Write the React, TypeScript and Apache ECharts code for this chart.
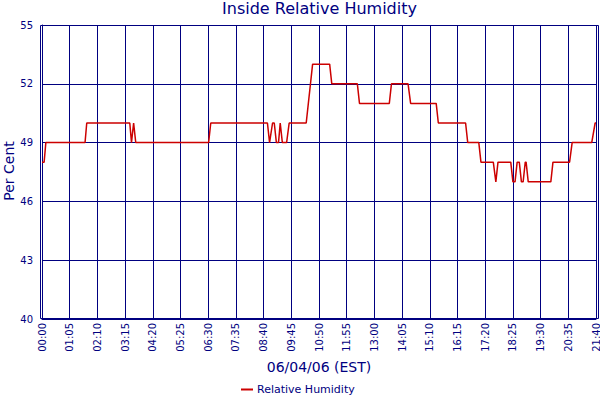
import React, { useEffect, useRef } from "react";
import * as echarts from "echarts";

const NAVY = "#000080";
const RED = "#CC0000";
const FONT = "DejaVu Sans";

const chartTitle = "Inside Relative Humidity";
const xAxisName = "06/04/06 (EST)";
const yAxisName = "Per Cent";
const seriesName = "Relative Humidity";

// minutes after midnight of each plotted vertex
const sampleMinutes = [
  0, 5, 9, 101, 105, 206, 210, 215, 220, 391, 396, 529, 534, 541, 545, 550, 555,
  559, 564, 574, 580, 620, 625, 630, 635, 675, 680, 740, 745, 815, 820, 859, 865,
  925, 930, 994, 999, 1025, 1030, 1059, 1065, 1070, 1100, 1105, 1110, 1115, 1120,
  1125, 1129, 1134, 1136, 1141, 1194, 1199, 1238, 1244, 1290, 1298, 1300,
];
const humidity = [
  48, 48, 49, 49, 50, 50, 49, 50, 49, 49, 50, 50, 49, 50, 50, 49, 49,
  50, 49, 49, 50, 50, 51, 52, 53, 53, 52, 52, 51, 51, 52, 52, 51,
  51, 50, 50, 49, 49, 48, 48, 47, 48, 48, 47, 47, 48, 48,
  47, 47, 48, 48, 47, 47, 48, 48, 49, 49, 50, 50,
];

const xTickLabels = [
  "00:00", "01:05", "02:10", "03:15", "04:20", "05:25", "06:30", "07:35", "08:40", "09:45",
  "10:50", "11:55", "13:00", "14:05", "15:10", "16:15", "17:20", "18:25", "19:30", "20:35", "21:40",
];
const xStep = 65;
const yMin = 40;
const yMax = 55;
const yStep = 3;

export default function App() {
  const ref = useRef<HTMLDivElement>(null);
  useEffect(() => {
    if (!ref.current) return;
    const chart = echarts.init(ref.current, null, { renderer: "svg" });
    const data = sampleMinutes.map((m, i) => [m, humidity[i]]);
    chart.setOption({
      animation: false,
      backgroundColor: "#ffffff",
      textStyle: { fontFamily: FONT },
      title: {
        text: chartTitle,
        left: 319.5,
        textAlign: "center",
        top: 0,
        padding: 0,
        textStyle: { color: NAVY, fontSize: 16, fontWeight: "normal", fontFamily: FONT },
      },
      legend: {
        left: 241,
        top: 384,
        padding: 0,
        icon: "rect",
        itemWidth: 12,
        itemHeight: 2,
        itemGap: 4,
        textStyle: { color: NAVY, fontSize: 11, fontFamily: FONT, padding: [0, 0, 0, -1] },
        data: [seriesName],
      },
      grid: { left: 42, right: 4, top: 25, bottom: 81, containLabel: false, outerBoundsMode: "none" },
      xAxis: {
        type: "value",
        min: 0,
        max: (xTickLabels.length - 1) * xStep,
        interval: xStep,
        name: xAxisName,
        nameLocation: "middle",
        nameGap: 37,
        nameTextStyle: { color: NAVY, fontSize: 14, fontFamily: FONT },
        axisLine: { show: true, lineStyle: { color: NAVY, width: 1 } },
        axisTick: { show: false },
        axisLabel: {
          rotate: 90,
          margin: 4,
          color: NAVY,
          fontSize: 10,
          fontFamily: FONT,
          formatter: (v: number) => xTickLabels[Math.round(v / xStep)] ?? "",
        },
        splitLine: { show: true, lineStyle: { color: NAVY, width: 1 } },
      },
      yAxis: {
        type: "value",
        min: yMin,
        max: yMax,
        interval: yStep,
        axisLine: { show: true, lineStyle: { color: NAVY, width: 1 } },
        axisTick: { show: false },
        axisLabel: { color: NAVY, fontSize: 10, fontFamily: FONT, margin: 9 },
        splitLine: { show: true, lineStyle: { color: NAVY, width: 1 } },
      },
      graphic: [
        {
          type: "rect",
          shape: { x: 40.5, y: 25.5, width: 558, height: 293 },
          style: { fill: "none", stroke: NAVY, lineWidth: 1 },
          silent: true,
          z: 10,
        },
        {
          type: "text",
          x: 9,
          y: 171,
          rotation: Math.PI / 2,
          silent: true,
          style: {
            text: yAxisName,
            fill: NAVY,
            font: `14px "${FONT}"`,
            align: "center",
            verticalAlign: "middle",
          },
        },
      ],
      series: [
        {
          name: seriesName,
          type: "line",
          data,
          symbol: "none",
          showSymbol: false,
          color: RED,
          lineStyle: { color: RED, width: 1.5 },
          z: 5,
        },
      ],
    });
    return () => chart.dispose();
  }, []);
  return <div ref={ref} style={{ width: 600, height: 400, position: "absolute", left: 0, top: 0 }} />;
}
